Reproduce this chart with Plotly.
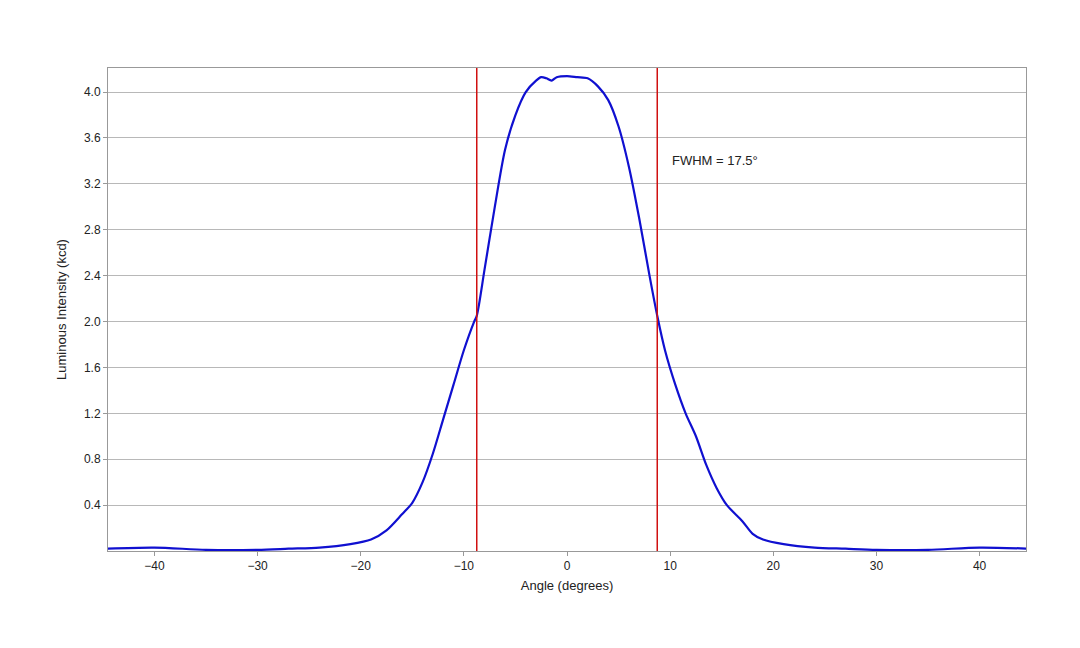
import plotly.graph_objects as go

angle = [-45,-40,-35,-30,-27,-24,-21,-19,-17.5,-16,-15,-14,-13,-12,-11,-10,-9,-8.75,-8,-7,-6,-5,-4,-3,-2.5,-2,-1.5,-1,0,1,2,3,4,5,6,7,8,8.75,9.5,10.5,11.5,12.5,13.5,14.5,15.5,17,18,19,21,24,27,30,35,40,45]
intensity = [0.02,0.03,0.01,0.01,0.02,0.03,0.06,0.10,0.18,0.32,0.42,0.6,0.85,1.15,1.45,1.75,2.0,2.05,2.45,3.0,3.5,3.8,4.0,4.10,4.13,4.12,4.10,4.13,4.14,4.13,4.12,4.05,3.93,3.7,3.35,2.9,2.4,2.05,1.75,1.45,1.2,1.0,0.75,0.55,0.4,0.26,0.15,0.10,0.06,0.03,0.02,0.01,0.01,0.03,0.02]
fwhm_edges = [-8.75, 8.75]
yticks = [0.4,0.8,1.2,1.6,2.0,2.4,2.8,3.2,3.6,4.0]

fig = go.Figure()
fig.add_trace(go.Scatter(x=angle, y=intensity, mode="lines",
                         line=dict(color="#1010d0", width=2.2, shape="spline", smoothing=0.8)))
for e in fwhm_edges:
    fig.add_vline(x=e, line=dict(color="#d01010", width=1.5))
fig.add_annotation(x=10, y=3.4, text="FWHM = 17.5°", showarrow=False, xanchor="left",
                   font=dict(size=13, color="#222"))
fig.update_layout(
    width=1080, height=648, showlegend=False,
    paper_bgcolor="white", plot_bgcolor="white",
    margin=dict(l=100, r=62, t=60, b=105),
    font=dict(family="Liberation Sans, Arial", size=12, color="#222"),
    xaxis=dict(range=[-44.5, 44.5], tickvals=[-40,-30,-20,-10,0,10,20,30,40],
               showgrid=False, zeroline=False, showline=True, linecolor="#999", mirror=True,
               ticks="outside", ticklen=4, tickcolor="#999",
               title=dict(text="Angle (degrees)", standoff=8, font=dict(size=13))),
    yaxis=dict(range=[0, 4.21], tickvals=yticks, tickformat=".1f",
               showgrid=True, gridcolor="#b8b8b8", zeroline=False,
               showline=True, linecolor="#999", mirror=True,
               ticks="outside", ticklen=4, tickcolor="#999",
               title=dict(text="Luminous Intensity (kcd)", standoff=14, font=dict(size=13))),
)
fig.write_html("out.html")
